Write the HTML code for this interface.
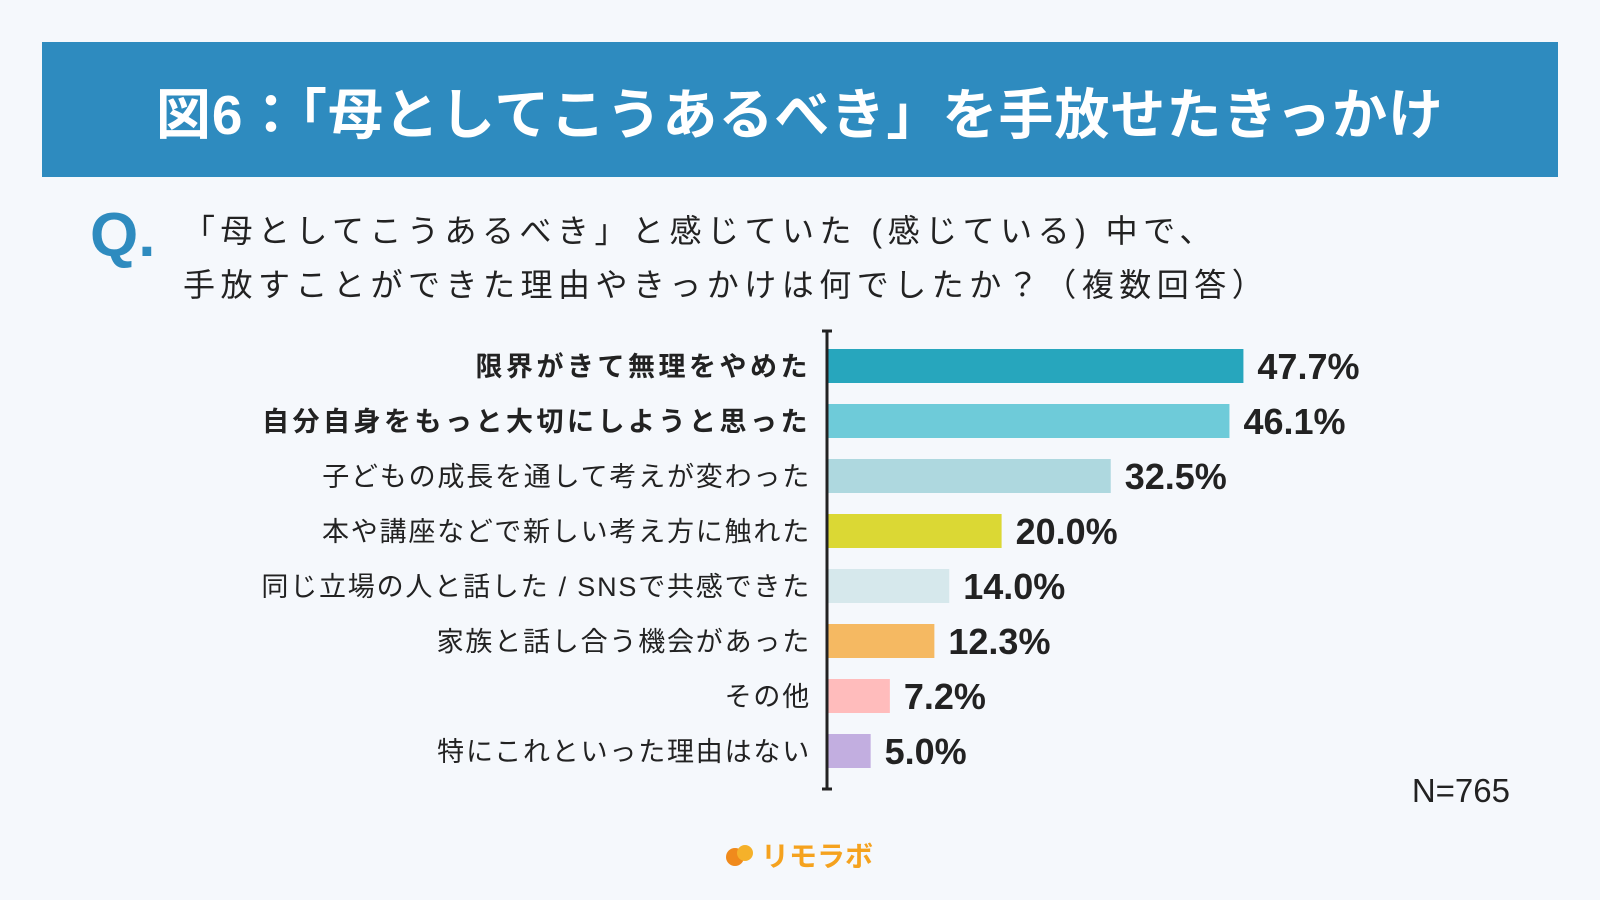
<!DOCTYPE html>
<html><head><meta charset="utf-8"><style>
body{margin:0;width:1600px;height:900px;background:#f5f8fc;font-family:"Liberation Sans","Noto Sans CJK JP",sans-serif;position:relative;overflow:hidden;color:#222}
.banner{position:absolute;left:42px;top:42px;width:1516px;height:135px;background:#2e8bbf;color:#fff;font-weight:bold;font-size:55px;display:flex;align-items:center;justify-content:center;letter-spacing:1px}
.q{position:absolute;left:90px;top:200px;font-size:62px;font-weight:bold;color:#2e8bbf}
.qt{position:absolute;left:183px;top:204px;font-size:32px;line-height:54px;letter-spacing:5.5px;color:#222;white-space:nowrap}
.n{position:absolute;right:90px;top:772px;font-size:33px}
.logo{position:absolute;left:725px;top:835px;font-size:28px;font-weight:bold;color:#f5a21e;display:flex;align-items:center;gap:6px}
</style></head><body>
<div class="banner">図6：「母としてこうあるべき」を手放せたきっかけ</div>
<div class="q">Q.</div>
<div class="qt">「母としてこうあるべき」と感じていた (感じている) 中で、<br>手放すことができた理由やきっかけは何でしたか？（複数回答）</div>
<svg id="chart" width="1600" height="900" style="position:absolute;left:0;top:0"></svg>
<div class="n">N=765</div>
<div class="logo"><svg width="30" height="24"><circle cx="10" cy="14" r="9" fill="#f08a1c"/><circle cx="20" cy="10" r="8" fill="#f5b12a"/></svg>リモラボ</div>
<script>
const categories=["限界がきて無理をやめた","自分自身をもっと大切にしようと思った","子どもの成長を通して考えが変わった","本や講座などで新しい考え方に触れた","同じ立場の人と話した / SNSで共感できた","家族と話し合う機会があった","その他","特にこれといった理由はない"];
const values=[47.7,46.1,32.5,20.0,14.0,12.3,7.2,5.0];
const labels=["47.7%","46.1%","32.5%","20.0%","14.0%","12.3%","7.2%","5.0%"];
const colors=["#27a6bd","#6ecbd9","#aed8df","#dbd834","#d6e8ec","#f5b962","#ffbcbc","#c2aee0"];
const bold=[true,true,false,false,false,false,false,false];
const svg=document.getElementById('chart');const NS="http://www.w3.org/2000/svg";
const x0=827,k=8.73,y0=366,pitch=55,bh=34;
const xs=v=>x0+v*k, ys=i=>y0+i*pitch;
function mk(t,a){const e=document.createElementNS(NS,t);for(const p in a)e.setAttribute(p,a[p]);svg.appendChild(e);return e;}
categories.forEach((c,i)=>{
 const r=mk('rect',{x:x0,y:ys(i)-bh/2,width:xs(values[i])-x0,height:bh,fill:colors[i]});
 
 
 const t=mk('text',{x:811,y:ys(i)+10,'text-anchor':'end','font-size':27,'font-weight':bold[i]?'bold':'normal',fill:'#222','letter-spacing':bold[i]?'3.5':'1.8'});
 t.textContent=c;
 
 
 const v=mk('text',{x:xs(values[i])+14,y:ys(i)+13,'font-size':36,'font-weight':'bold',fill:'#222'});
 v.textContent=labels[i];
 
 
});
const ax=mk('path',{d:`M${x0} 331V789M${x0-5} 331H${x0+5}M${x0-5} 789H${x0+5}`,stroke:'#222','stroke-width':3,fill:'none'});


</script>
</body></html>
